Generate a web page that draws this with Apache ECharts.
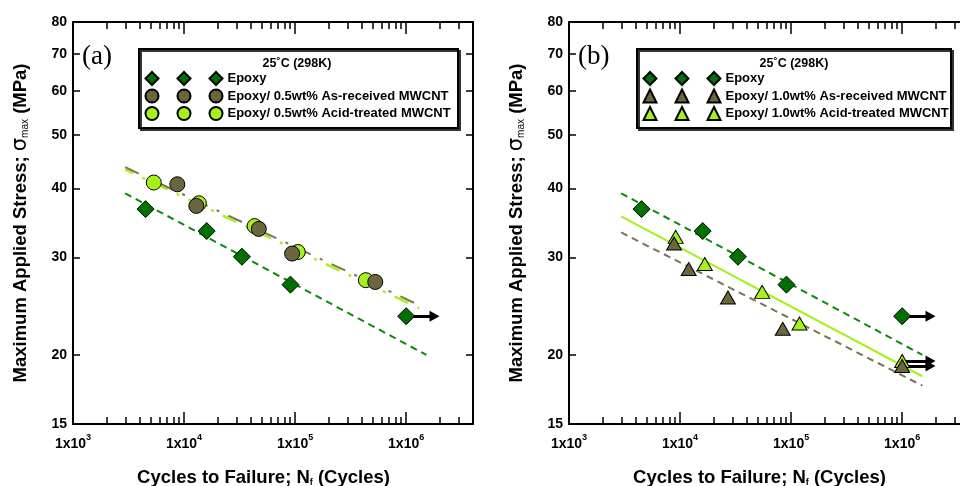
<!DOCTYPE html>
<html><head><meta charset="utf-8">
<script src="https://cdn.jsdelivr.net/npm/echarts@6/dist/echarts.min.js"></script>
<style>html,body{margin:0;padding:0;background:#fff}#c{width:960px;height:486px}</style>
</head><body><div id="c"></div>
<script>
// ---------- data ----------
const xDecades = [1e3, 1e4, 1e5, 1e6];
const yTicks = [15, 20, 30, 40, 50, 60, 70, 80];
const legendTitle = '25˚C (298K)';
const panelLabels = ['(a)', '(b)'];
const namesA = ['Epoxy', 'Epoxy/ 0.5wt% As-received MWCNT', 'Epoxy/ 0.5wt% Acid-treated MWCNT'];
const namesB = ['Epoxy', 'Epoxy/ 1.0wt% As-received MWCNT', 'Epoxy/ 1.0wt% Acid-treated MWCNT'];

const epoxyN = [4500, 16000, 33200, 90800, 1000000];
const epoxyS = [36.7, 33.5, 30.1, 26.8, 23.5];
const asRecA_N = [8700, 12900, 47100, 94000, 527000];
const asRecA_S = [40.7, 37.2, 33.8, 30.5, 27.1];
const acidA_N = [5340, 13600, 43200, 105700, 434000];
const acidA_S = [41.0, 37.6, 34.2, 30.7, 27.3];
const asRecB_N = [8830, 11970, 27000, 84100, 1000000];
const asRecB_S = [31.8, 28.6, 25.4, 22.3, 19.1];
const acidB_N = [9140, 16700, 54900, 119000, 1000000];
const acidB_S = [32.7, 29.2, 26.0, 22.8, 19.5];

// fitted S-N lines (end points)
const fitEpoxyN = [2950, 1520000];
const fitEpoxyS = [39.2, 20.0];
const fitAsRecA_N = [2950, 1310000];
const fitAsRecA_S = [43.7, 24.6];
const fitAcidA_N = [2950, 1310000];
const fitAcidA_S = [43.3, 24.3];
const fitAsRecB_N = [2950, 1520000];
const fitAsRecB_S = [33.3, 17.6];
const fitAcidB_N = [2950, 1520000];
const fitAcidB_S = [35.6, 18.3];

// run-outs (arrows)
const runoutStartN = 1000000;
const runoutEndN = 1800000;
const runoutA_S = [23.5];
const runoutB_S = [23.5, 19.5, 19.1];

// ---------- styles ----------
const FONT = 'Liberation Sans, Arial, sans-serif';
const cEpoxy = '#007000', cOlive = '#6b6640', cLime = '#a6f01c';
const cEpoxyLine = '#0a8a0a', cOliveLine = '#7a7450', cLimeLine = '#a6f01c';

const xMinor = [];
xDecades.forEach(d => { for (let k = 2; k <= 9; k++) if (k * d <= 4e6) xMinor.push(k * d); });

const zip = (a, b) => a.map((v, i) => [v, b[i]]);
const blk = { color: '#000', width: 2 };
const tickStyle = { color: '#000', width: 1.5 };

function xAxes(gi) {
  const base = { type: 'log', logBase: 10, gridIndex: gi, min: 1000, max: 4e6,
    splitLine: { show: false }, minorTick: { show: false }, minorSplitLine: { show: false },
    axisLabel: { show: false }, axisLine: { show: false }, axisTick: { show: false } };
  return [
    Object.assign({}, base, { position: 'bottom',
      axisLine: { show: true, onZero: false, lineStyle: blk },
      axisTick: { show: true, inside: true, length: 12, lineStyle: tickStyle, customValues: xDecades },
      axisLabel: { show: true, customValues: xDecades, margin: 9,
        formatter: v => '{b|1x10}{s|' + Math.round(Math.log10(v)) + '}',
        rich: { b: { fontFamily: FONT, fontWeight: 'bold', fontSize: 14, color: '#000', lineHeight: 18, verticalAlign: 'bottom' },
                s: { fontFamily: FONT, fontWeight: 'bold', fontSize: 9, color: '#000', lineHeight: 10, verticalAlign: 'top' } } },
      name: '{t|Cycles to Failure; N}{f|f}{t| (Cycles)}', nameLocation: 'middle', nameGap: 44,
      nameTextStyle: { padding: [0, 19, 0, 0],
        rich: { t: { fontFamily: FONT, fontWeight: 'bold', fontSize: 18.5, color: '#000' },
                f: { fontFamily: FONT, fontWeight: 'bold', fontSize: 9, color: '#000', padding: [10, 0, 0, 0] } } } }),
    Object.assign({}, base, { position: 'bottom',
      axisTick: { show: true, inside: true, length: 7, lineStyle: tickStyle, customValues: xMinor } }),
    Object.assign({}, base, { position: 'top',
      axisLine: { show: true, onZero: false, lineStyle: blk },
      axisTick: { show: true, inside: true, length: 12, lineStyle: tickStyle, customValues: xDecades } }),
    Object.assign({}, base, { position: 'top',
      axisTick: { show: true, inside: true, length: 7, lineStyle: tickStyle, customValues: xMinor } })
  ];
}
function yAxes(gi) {
  const base = { type: 'log', logBase: 10, gridIndex: gi, min: 15, max: 80,
    splitLine: { show: false }, minorTick: { show: false },
    axisLine: { show: true, onZero: false, lineStyle: blk },
    axisTick: { show: true, inside: true, length: 7, lineStyle: tickStyle, customValues: yTicks } };
  return [
    Object.assign({}, base, { position: 'left',
      axisLabel: { show: true, customValues: yTicks, margin: 6, formatter: v => String(Math.round(v)),
        fontFamily: FONT, fontWeight: 'bold', fontSize: 14, color: '#000' },
      name: '{t|Maximum Applied Stress; }{g|σ}{m|max}{t| (MPa)}', nameLocation: 'middle', nameRotate: 90, nameGap: 42,
      nameTextStyle: { rich: { t: { fontFamily: FONT, fontWeight: 'bold', fontSize: 18.5, color: '#000' },
                               g: { fontFamily: 'DejaVu Sans', fontSize: 21, color: '#000' },
                               m: { fontFamily: FONT, fontSize: 10, color: '#000', padding: [9, 0, 0, 0] } } } }),
    Object.assign({}, base, { position: 'right', axisLabel: { show: false } })
  ];
}

function scatter(name, xi, yi, N, S, symbol, color, size, z) {
  return { type: 'scatter', name, xAxisIndex: xi, yAxisIndex: yi, data: zip(N, S), symbol, symbolSize: size,
    itemStyle: { color, borderColor: '#000', borderWidth: 1, opacity: 1 }, z, silent: true };
}
function fit(xi, yi, N, S, color, type, width, z, offset) {
  return { type: 'line', name: 'fit', xAxisIndex: xi, yAxisIndex: yi, data: zip(N, S), symbol: 'none', silent: true,
    lineStyle: { color, type, width, dashOffset: offset || 0 }, z };
}
function runouts(xi, yi, ys) {
  return { type: 'line', xAxisIndex: xi, yAxisIndex: yi, data: [], silent: true, z: 3,
    markLine: { silent: true, animation: false, symbol: ['none', 'triangle'], symbolSize: [11, 10],
      label: { show: false }, itemStyle: { color: '#000' }, lineStyle: { color: '#000', width: 3, type: 'solid' },
      emphasis: { disabled: true },
      data: ys.map(s => [{ coord: [runoutStartN, s] }, { coord: [runoutEndN, s] }]) } };
}

function legends(names, centers, top) {
  return centers.map((cx, i) => ({
    left: cx - 6.5, top: top, orient: 'vertical', padding: 0, data: names, selectedMode: false,
    itemWidth: 13, itemHeight: 13, itemGap: 2.5,
    formatter: i < 2 ? (() => '') : (n => n),
    textStyle: { fontFamily: FONT, fontWeight: 'bold', fontSize: 13, color: '#000', lineHeight: 13, height: 13, padding: 0 }
  }));
}

const series = [
  // panel (a)
  fit(0, 0, fitEpoxyN, fitEpoxyS, cEpoxyLine, [7, 5], 2, 2),
  fit(0, 0, fitAcidA_N, fitAcidA_S, cLimeLine, [15, 10, 3, 10], 2.5, 2, 6),
  fit(0, 0, fitAsRecA_N, fitAsRecA_S, cOliveLine, [15, 10, 3, 10], 2, 2),
  runouts(0, 0, runoutA_S),
  scatter(namesA[2], 0, 0, acidA_N, acidA_S, 'circle', cLime, 15, 5),
  scatter(namesA[1], 0, 0, asRecA_N, asRecA_S, 'circle', cOlive, 15, 6),
  scatter(namesA[0], 0, 0, epoxyN, epoxyS, 'diamond', cEpoxy, 17, 7),
  // panel (b)
  fit(4, 2, fitEpoxyN, fitEpoxyS, cEpoxyLine, [7, 5], 2, 2),
  fit(4, 2, fitAsRecB_N, fitAsRecB_S, cOliveLine, [7, 5], 2, 2),
  fit(4, 2, fitAcidB_N, fitAcidB_S, cLimeLine, 'solid', 2, 2),
  runouts(4, 2, runoutB_S),
  scatter(namesB[2], 4, 2, acidB_N, acidB_S, 'triangle', cLime, [15, 13], 5),
  scatter(namesB[1], 4, 2, asRecB_N, asRecB_S, 'triangle', cOlive, [15, 13], 6),
  scatter(namesB[0], 4, 2, epoxyN, epoxyS, 'diamond', cEpoxy, 17, 7)
];

function box(x, y, w, h) {
  return { type: 'rect', left: x, top: y, shape: { width: w, height: h }, z: 1,
    style: { fill: '#fff', stroke: '#000', lineWidth: 2, shadowColor: '#333', shadowOffsetX: 2, shadowOffsetY: 2, shadowBlur: 0 } };
}
function txt(x, y, text, font, align) {
  return { type: 'text', x, y, z: 10, style: { text, font, fill: '#000', align: align || 'left', verticalAlign: 'middle' } };
}

const option = {
  animation: false,
  backgroundColor: '#fff',
  grid: [
    { left: 73, top: 22, width: 400, height: 402, outerBoundsMode: 'none', containLabel: false },
    { left: 569, top: 22, width: 400, height: 402, outerBoundsMode: 'none', containLabel: false }
  ],
  xAxis: xAxes(0).concat(xAxes(1)),
  yAxis: yAxes(0).concat(yAxes(1)),
  legend: legends(namesA, [151, 183, 215], 71).concat(legends(namesB, [649, 681, 713], 71)),
  graphic: [
    box(138, 48, 319, 79),
    box(636, 48, 314, 79),
    txt(297, 64, legendTitle, 'bold 12.5px ' + FONT, 'center'),
    txt(794, 64, legendTitle, 'bold 12.5px ' + FONT, 'center'),
    txt(82, 57, panelLabels[0], '27px Liberation Serif, Times New Roman, serif'),
    txt(578, 57, panelLabels[1], '27px Liberation Serif, Times New Roman, serif')
  ],
  series
};
const chart = echarts.init(document.getElementById('c'), null, { renderer: 'canvas' });
chart.setOption(option);
</script></body></html>
